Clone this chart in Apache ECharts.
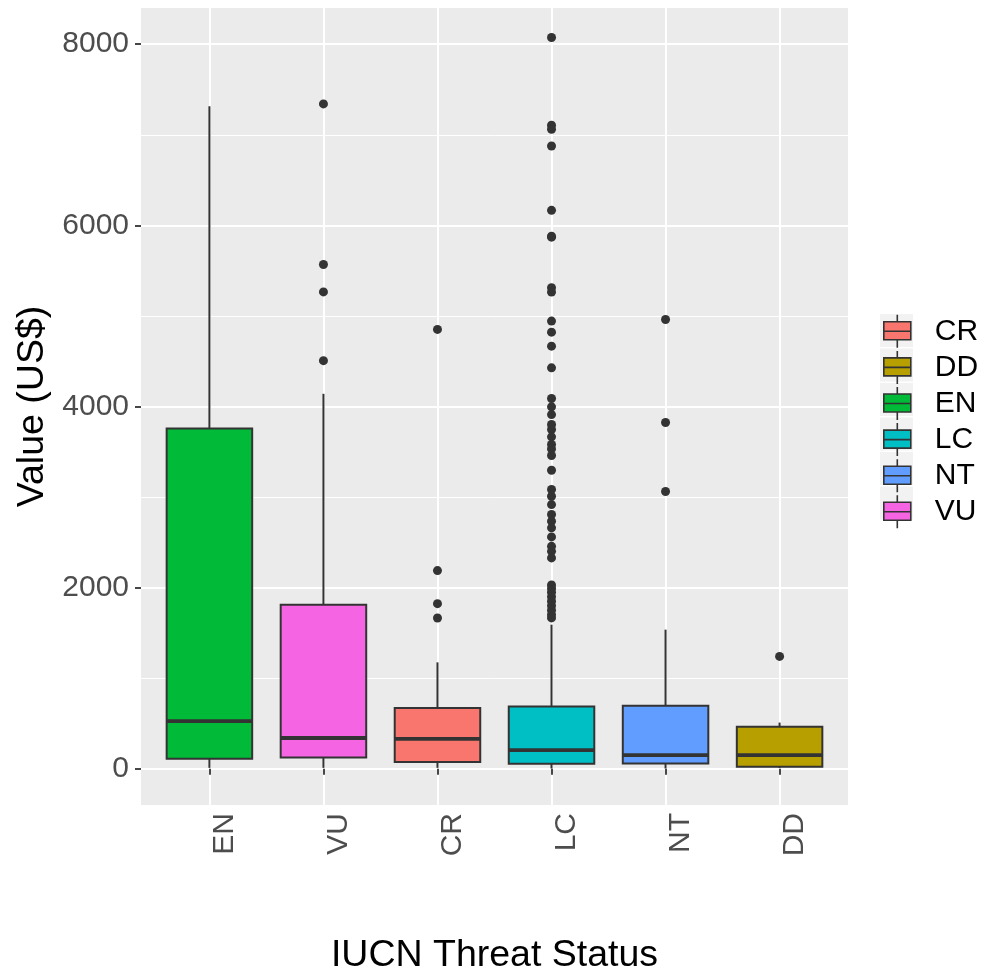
<!DOCTYPE html>
<html><head><meta charset="utf-8">
<script src="https://cdn.jsdelivr.net/npm/echarts@6/dist/echarts.min.js"></script>
<style>html,body{margin:0;padding:0;background:#fff}#c{width:989px;height:972px}</style>
</head><body><div id="c"></div>
<script>
// ---- data ----
const categories = ['EN', 'VU', 'CR', 'LC', 'NT', 'DD'];
const legendOrder = ['CR', 'DD', 'EN', 'LC', 'NT', 'VU'];
const whiskerLow = [10, 10, 10, 3, 3, 10];
const q1 = [110, 125, 74, 55, 58, 22];
const median = [525, 340, 331, 206, 150, 150];
const q3 = [3757, 1812, 670, 687, 695, 465];
const whiskerHigh = [7315, 4140, 1175, 1591, 1536, 510];
const outliersEN = [];
const outliersVU = [7341, 5568, 5265, 4506];
const outliersCR = [4851, 2188, 1823, 1665];
const outliersLC = [8074, 7105, 7061, 6876, 6166, 5880, 5870, 5311, 5263, 4943, 4821, 4666, 4427,
  4088, 3996, 3911, 3801, 3746, 3665, 3580, 3532, 3459, 3296, 3083, 3009, 2917, 2807, 2733, 2660,
  2560, 2456, 2401, 2328, 2030, 1990, 1950, 1900, 1850, 1800, 1750, 1700, 1666];
const outliersNT = [4961, 3823, 3061];
const outliersDD = [1241];
const yTicks = [0, 2000, 4000, 6000, 8000];
const xTicks = [1, 2, 3, 4, 5, 6];

// ---- styles ----
const palette = { CR: '#F8766D', DD: '#B79F00', EN: '#00BA38', LC: '#00BFC4', NT: '#619CFF', VU: '#F564E3' };
const FONT = "'Liberation Sans', Arial, Helvetica, sans-serif";
const STROKE = '#333333';

const outlierLists = [outliersEN, outliersVU, outliersCR, outliersLC, outliersNT, outliersDD];
const outlierData = [];
outlierLists.forEach((list, i) => list.forEach(v => outlierData.push([i + 1, v])));

function renderBox(params, api) {
  const x = api.value(0);
  const pLo = api.coord([x, api.value(1)]);
  const pQ1 = api.coord([x, api.value(2)]);
  const pMed = api.coord([x, api.value(3)]);
  const pQ3 = api.coord([x, api.value(4)]);
  const pHi = api.coord([x, api.value(5)]);
  const w = api.size([0.75, 0])[0];
  const cx = pQ1[0];
  return {
    type: 'group',
    children: [
      { type: 'line', shape: { x1: cx, y1: pLo[1], x2: cx, y2: pQ1[1] }, style: { stroke: STROKE, lineWidth: 2 } },
      { type: 'line', shape: { x1: cx, y1: pQ3[1], x2: cx, y2: pHi[1] }, style: { stroke: STROKE, lineWidth: 2 } },
      { type: 'rect', shape: { x: cx - w / 2, y: pQ3[1], width: w, height: pQ1[1] - pQ3[1] },
        style: { fill: api.visual('color'), stroke: STROKE, lineWidth: 2 } },
      { type: 'line', shape: { x1: cx - w / 2, y1: pMed[1], x2: cx + w / 2, y2: pMed[1] },
        style: { stroke: STROKE, lineWidth: 3.8 } }
    ]
  };
}

const series = categories.map((name, i) => ({
  name: name,
  type: 'custom',
  renderItem: renderBox,
  itemStyle: { color: palette[name] },
  encode: { x: 0, y: [1, 2, 3, 4, 5] },
  data: [[i + 1, whiskerLow[i], q1[i], median[i], q3[i], whiskerHigh[i]]],
  silent: true
}));
series.push({
  name: 'outliers',
  type: 'scatter',
  data: outlierData,
  symbolSize: 9,
  itemStyle: { color: STROKE, opacity: 1 },
  silent: true,
  z: 3
});

const chart = echarts.init(document.getElementById('c'), null, { renderer: 'canvas' });
chart.setOption({
  animation: false,
  backgroundColor: '#FFFFFF',
  textStyle: { fontFamily: FONT },
  grid: { left: 141, right: 141, top: 8, bottom: 167, show: true, backgroundColor: '#EBEBEB', borderWidth: 0,
          containLabel: false, outerBoundsMode: 'none' },
  xAxis: {
    type: 'value', min: 0.4, max: 6.6,
    name: 'IUCN Threat Status', nameLocation: 'middle', nameGap: 132,
    nameTextStyle: { fontSize: 37.5, color: '#000', fontFamily: FONT },
    axisLine: { show: false },
    axisTick: { show: true, length: 6, lineStyle: { color: STROKE, width: 1.8 }, customValues: xTicks },
    axisLabel: {
      show: true, rotate: 90, margin: 8, fontSize: 30, color: '#4D4D4D', fontFamily: FONT,
      verticalAlign: 'top', customValues: xTicks,
      formatter: v => (Math.abs(v - Math.round(v)) < 1e-6 && v >= 1 && v <= 6) ? categories[Math.round(v) - 1] : ''
    },
    splitLine: { show: true, lineStyle: { color: '#FFFFFF', width: 2 } }
  },
  yAxis: [{
    type: 'value', min: -400, max: 8400,
    name: 'Value (US$)', nameLocation: 'middle', nameGap: 70,
    nameTextStyle: { fontSize: 37.5, color: '#000', fontFamily: FONT },
    axisLine: { show: false },
    axisTick: { show: true, length: 6, lineStyle: { color: STROKE, width: 1.8 }, customValues: yTicks },
    axisLabel: {
      show: true, margin: 12, fontSize: 30, color: '#4D4D4D', fontFamily: FONT,
      customValues: yTicks,
      formatter: v => (v % 2000 === 0 && v >= 0) ? String(v) : ''
    },
    splitLine: { show: true, lineStyle: { color: '#FFFFFF', width: 2 } }
  }, {
    // minor grid lines (offset by 1000 so ticks fall at 1000, 3000, 5000, 7000)
    type: 'value', min: 600, max: 9400, position: 'left',
    axisLine: { show: false }, axisTick: { show: false }, axisLabel: { show: false },
    splitLine: { show: true, showMinLine: false, showMaxLine: false, lineStyle: { color: '#FFFFFF', width: 1 } }
  }],
  legend: [{
    // legend key backgrounds
    orient: 'vertical', left: 880, top: 314, padding: 0, itemGap: 1.5,
    itemWidth: 33, itemHeight: 33, icon: 'rect', z: 3,
    itemStyle: { color: '#F2F2F2', borderWidth: 0 },
    textStyle: { fontSize: 30, color: 'rgba(0,0,0,0)', fontFamily: FONT },
    data: legendOrder,
    selectedMode: false
  }, {
    orient: 'vertical', left: 883, top: 314, padding: 0, itemGap: 1.5,
    itemWidth: 27, itemHeight: 33, z: 5,
    icon: 'path://M16.5,0L16.5,7M3,7L30,7L30,25L3,25ZM3,16.5L30,16.5M16.5,25L16.5,33',
    itemStyle: { borderColor: STROKE, borderWidth: 1.6 },
    textStyle: { fontSize: 30, color: '#000', fontFamily: FONT, padding: [0, 0, 0, 19] },
    data: legendOrder,
    selectedMode: false
  }],
  series: series
});
</script>
</body></html>
